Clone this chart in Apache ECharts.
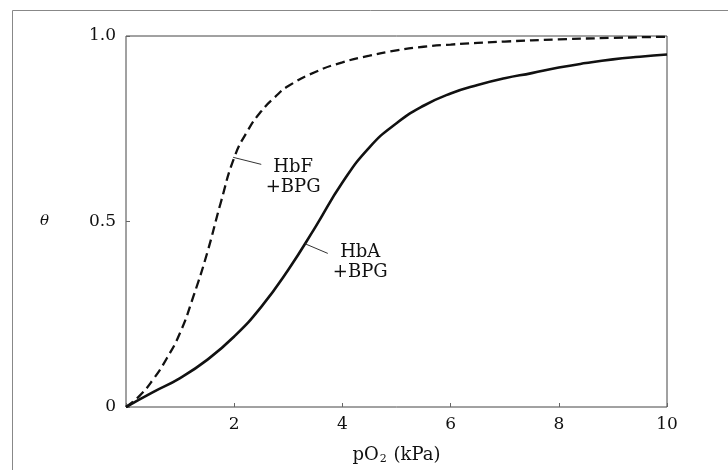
<!DOCTYPE html>
<html>
<head>
<meta charset="utf-8">
<script src="https://cdn.jsdelivr.net/npm/echarts@6/dist/echarts.min.js"></script>
<style>html,body{margin:0;padding:0;background:#fff}#c{width:728px;height:470px}</style>
</head>
<body>
<div id="c"></div>
<script>
// pO2 (kPa) vs fractional saturation theta
const hbaX = [0, 0.5, 1.0, 1.5, 2.0, 2.5, 3.0, 3.5, 4.0, 4.5, 5.0, 5.5, 6.0, 6.5, 7.0, 7.5, 8.0, 8.5, 9.0, 9.5, 10];
const hbaY = [0, 0.04, 0.078, 0.127, 0.19, 0.27, 0.37, 0.485, 0.605, 0.70, 0.765, 0.812, 0.845, 0.868, 0.886, 0.90, 0.915, 0.927, 0.937, 0.944, 0.95];
const hbfX = [0, 0.25, 0.5, 0.75, 1.0, 1.25, 1.5, 1.75, 2.0, 2.25, 2.5, 2.75, 3.0, 3.5, 4.0, 4.5, 5.0, 5.5, 6.0, 7.0, 8.0, 9.0, 10];
const hbfY = [0, 0.03, 0.074, 0.13, 0.20, 0.30, 0.415, 0.55, 0.672, 0.745, 0.797, 0.835, 0.865, 0.903, 0.929, 0.947, 0.961, 0.971, 0.977, 0.985, 0.991, 0.995, 0.998];
const xTicks = [2, 4, 6, 8, 10];
const yTicks = [0, 0.5, 1.0];
const yTickLabels = ['0', '0.5', '1.0'];
const hbfLabel = ['HbF', '+BPG'];
const hbaLabel = ['HbA', '+BPG'];
const hbfLeader = [[1.98, 0.673], [2.5, 0.654]];
const hbaLeader = [[3.31, 0.44], [3.73, 0.414]];
const hbfLabelAt = [3.09, 0.62];
const hbaLabelAt = [4.33, 0.39];

const serif = '"DejaVu Serif", "Liberation Serif", serif';
const zip = (xs, ys) => xs.map((x, i) => [x, ys[i]]);

const chart = echarts.init(document.getElementById('c'), null, {renderer: 'canvas'});
chart.setOption({
  animation: false,
  backgroundColor: '#fff',
  grid: {left: 126, right: 61, top: 36, bottom: 55, show: true, borderColor: '#444', borderWidth: 1},
  xAxis: {
    type: 'value', min: 0, max: 10, interval: 2,
    name: '{a|pO}{s|2}{a| (kPa)}', nameLocation: 'middle', nameGap: 38,
    nameTextStyle: {rich: {
      a: {fontFamily: serif, fontSize: 18, color: '#111'},
      s: {fontFamily: serif, fontSize: 11, color: '#111', verticalAlign: 'bottom', padding: [9, 1, 0, 1]}
    }},
    axisLine: {show: false},
    axisTick: {show: true, inside: true, length: 4, lineStyle: {color: '#666'}},
    splitLine: {show: false},
    axisLabel: {
      margin: 9, fontFamily: serif, fontSize: 17, color: '#111',
      formatter: v => xTicks.indexOf(v) >= 0 ? String(v) : ''
    }
  },
  yAxis: {
    type: 'value', min: 0, max: 1, interval: 0.5,
    name: 'θ', nameLocation: 'middle', nameGap: 77, nameRotate: 0,
    nameTextStyle: {fontFamily: serif, fontStyle: 'italic', fontSize: 15, color: '#111'},
    axisLine: {show: false},
    axisTick: {show: true, inside: true, length: 4, lineStyle: {color: '#666'}},
    splitLine: {show: false},
    axisLabel: {
      margin: 10, fontFamily: serif, fontSize: 17, color: '#111',
      formatter: v => { const i = yTicks.findIndex(t => Math.abs(t - v) < 1e-9); return i >= 0 ? yTickLabels[i] : ''; }
    }
  },
  series: [
    {
      name: 'HbA +BPG', type: 'line', data: zip(hbaX, hbaY), smooth: 0.5,
      showSymbol: false, symbol: 'none',
      lineStyle: {color: '#111', width: 2.6, type: 'solid'},
      markLine: {
        silent: true, symbol: 'none', animation: false,
        lineStyle: {color: '#333', width: 1, type: 'solid'}, label: {show: false},
        data: [[{coord: hbaLeader[0]}, {coord: hbaLeader[1]}]]
      },
      markPoint: {
        symbol: 'circle', symbolSize: 0, silent: true,
        label: {show: true, position: 'inside', formatter: hbaLabel.join('\n'), fontFamily: serif, fontSize: 18, lineHeight: 20, color: '#111', align: 'center'},
        data: [{coord: hbaLabelAt}]
      }
    },
    {
      name: 'HbF +BPG', type: 'line', data: zip(hbfX, hbfY), smooth: 0.5,
      showSymbol: false, symbol: 'none',
      lineStyle: {color: '#111', width: 2.3, type: [9, 5]},
      markLine: {
        silent: true, symbol: 'none', animation: false,
        lineStyle: {color: '#333', width: 1, type: 'solid'}, label: {show: false},
        data: [[{coord: hbfLeader[0]}, {coord: hbfLeader[1]}]]
      },
      markPoint: {
        symbol: 'circle', symbolSize: 0, silent: true,
        label: {show: true, position: 'inside', formatter: hbfLabel.join('\n'), fontFamily: serif, fontSize: 18, lineHeight: 20, color: '#111', align: 'center'},
        data: [{coord: hbfLabelAt}]
      }
    }
  ],
  graphic: [
    {type: 'line', shape: {x1: 12.5, y1: 10.5, x2: 728, y2: 10.5}, style: {stroke: '#888', lineWidth: 1}, silent: true},
    {type: 'line', shape: {x1: 12.5, y1: 10.5, x2: 12.5, y2: 470}, style: {stroke: '#888', lineWidth: 1}, silent: true}
  ]
});
</script>
</body>
</html>
